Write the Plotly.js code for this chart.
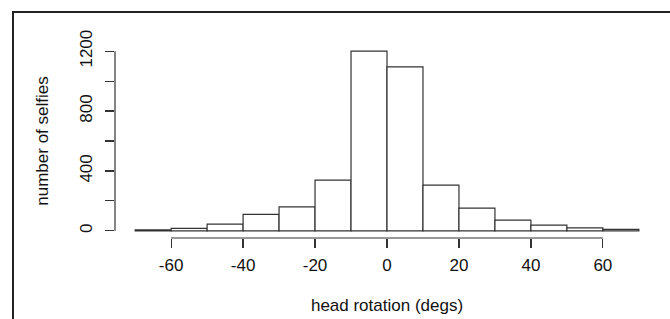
<!DOCTYPE html>
<html>
<head>
<meta charset="utf-8">
<script src="https://cdn.plot.ly/plotly-3.0.1.min.js"></script>
<style>
  html, body { margin: 0; padding: 0; background: #fff; }
  #wrap { position: relative; width: 670px; height: 319px; overflow: hidden; }
  #chart { position: absolute; left: 0; top: 0; width: 670px; height: 319px; }
  #frame { position: absolute; left: 12px; top: 11px; width: 700px; height: 400px;
           border-top: 2px solid #222; border-left: 2px solid #222; pointer-events: none; z-index: 5; }
</style>
</head>
<body>
<div id="wrap">
  <div id="chart"></div>
  <div id="frame"></div>
</div>
<script>
// Histogram data: bin edges (degrees) and counts
const binEdges = [-70, -60, -50, -40, -30, -20, -10, 0, 10, 20, 30, 40, 50, 60, 70];
const counts   = [7, 16, 45, 110, 160, 338, 1200, 1095, 305, 152, 72, 38, 20, 9];
const xTicks = [-60, -40, -20, 0, 20, 40, 60];
const xTickLabels = ['-60', '-40', '-20', '0', '20', '40', '60'];
const yTicks = [0, 200, 400, 600, 800, 1000, 1200];
const yTickLabels = ['0', '', '400', '', '800', '', '1200'];
const xTitle = 'head rotation (degs)';
const yTitle = 'number of selfies';

const centers = counts.map((c, i) => (binEdges[i] + binEdges[i + 1]) / 2);
const widths = counts.map((c, i) => binEdges[i + 1] - binEdges[i]);

const xLo = binEdges[0], xHi = binEdges[binEdges.length - 1];
const xPad = (xHi - xLo) * 0.04;
const yMax = Math.max(...counts);
const yPad = yMax * 0.04;

const font = { family: '"Liberation Sans", Arial, Helvetica, sans-serif', size: 17, color: '#111' };

const trace = {
  type: 'bar',
  x: centers,
  y: counts,
  width: widths,
  marker: { color: '#ffffff', line: { color: '#333333', width: 1.2 } },
  hoverinfo: 'x+y'
};

const layout = {
  width: 670, height: 319,
  margin: { l: 114.5, r: 11.1, t: 43.8, b: 80.8, pad: 0 },
  paper_bgcolor: '#ffffff',
  plot_bgcolor: '#ffffff',
  showlegend: false,
  font: font,
  bargap: 0,
  xaxis: {
    range: [xLo - xPad, xHi + xPad],
    tickvals: xTicks, ticktext: xTickLabels,
    ticks: 'outside', ticklen: 9, tickwidth: 1.2, tickcolor: '#333',
    showgrid: false, zeroline: false, showline: false,
    ticklabelstandoff: 3,
    tickfont: font,
    title: { text: xTitle, font: font, standoff: 24 }
  },
  yaxis: {
    range: [-yPad, yMax + yPad],
    tickvals: yTicks, ticktext: yTickLabels,
    tickangle: -90,
    ticks: 'outside', ticklen: 9, tickwidth: 1.2, tickcolor: '#333',
    showgrid: false, zeroline: false, showline: false,
    ticklabelstandoff: 6,
    tickfont: font,
    title: { text: yTitle, font: font, standoff: 24 }
  },
  shapes: [
    { type: 'line', xref: 'x', yref: 'paper', x0: xTicks[0], x1: xTicks[xTicks.length - 1], y0: 0, y1: 0,
      line: { color: '#333', width: 1.2 } },
    { type: 'line', xref: 'paper', yref: 'y', x0: 0, x1: 0, y0: yTicks[0], y1: yTicks[yTicks.length - 1],
      line: { color: '#333', width: 1.2 } }
  ]
};

Plotly.newPlot('chart', [trace], layout, { displayModeBar: false, staticPlot: true });
</script>
</body>
</html>
